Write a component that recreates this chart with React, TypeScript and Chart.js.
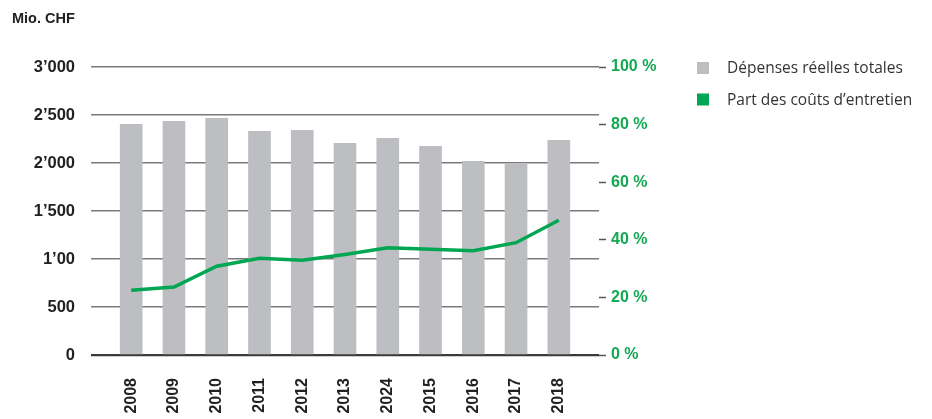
import React, { useEffect, useRef } from 'react';
import { Chart, registerables } from 'chart.js';

Chart.register(...registerables);

// ---- Data ----
const categories = ['2008', '2009', '2010', '2011', '2012', '2013', '2024', '2015', '2016', '2017', '2018'];
const depensesTotales = [2403, 2434, 2466, 2330, 2341, 2205, 2257, 2174, 2018, 1997, 2236];
const partEntretien = [22.5, 23.6, 30.8, 33.6, 32.9, 34.9, 37.2, 36.7, 36.2, 39.0, 46.8];

const leftTickValues = [0, 500, 1000, 1500, 2000, 2500, 3000];
const leftTickLabels = ['0', '500', '1’00', '1’500', '2’000', '2’500', '3’000'];
const rightTickValues = [0, 20, 40, 60, 80, 100];
const rightTickLabels = ['0 %', '20 %', '40 %', '60 %', '80 %', '100 %'];

const unitLabel = 'Mio. CHF';
const seriesLabels = ['Dépenses réelles totales', 'Part des coûts d’entretien'];

const GREY = '#bdbec2';
const GREEN = '#00a651';
const GREEN_TEXT = '#14a852';
const TICK_FONT = '"Liberation Sans", Arial, Helvetica, sans-serif';

const overlayPlugin = {
  id: 'overlayText',
  afterDraw(chart: any) {
    const ctx = chart.ctx;
    const area = chart.chartArea;
    ctx.save();
    ctx.textBaseline = 'middle';
    ctx.textAlign = 'left';
    ctx.fillStyle = '#222';
    ctx.font = `bold 14.5px ${TICK_FONT}`;
    ctx.fillText(unitLabel, 12, 19);

    ctx.font = '15.5px "Open Sans", "Noto Sans", sans-serif';
    chart.data.datasets.forEach((ds: any, i: number) => {
      const cy = area.top + 1 + i * 31.5;
      const x0 = area.right + 98;
      ctx.fillStyle = ds.legendColor;
      ctx.fillRect(x0, cy - 6, 12, 12);
      ctx.fillStyle = '#333';
      ctx.fillText(ds.label, x0 + 30, cy + 1);
    });
    ctx.restore();
  },
};

export default function App() {
  const canvasRef = useRef<HTMLCanvasElement | null>(null);

  useEffect(() => {
    if (!canvasRef.current) return;
    const chart = new Chart(canvasRef.current, {
      type: 'bar',
      data: {
        datasets: [
          {
            type: 'bar',
            label: seriesLabels[0],
            data: depensesTotales.map((v, i) => ({ x: i, y: v })),
            backgroundColor: GREY,
            borderWidth: 0,
            barThickness: 22,
            yAxisID: 'y',
            xAxisID: 'x',
            order: 2,
            legendColor: GREY,
          } as any,
          {
            type: 'line',
            label: seriesLabels[1],
            data: partEntretien.map((v, i) => ({ x: i, y: v })),
            borderColor: GREEN,
            backgroundColor: GREEN,
            borderWidth: 3.5,
            pointRadius: 0,
            tension: 0,
            fill: false,
            yAxisID: 'y1',
            xAxisID: 'x',
            order: 1,
            legendColor: GREEN,
          } as any,
        ],
      },
      options: {
        animation: false,
        responsive: false,
        maintainAspectRatio: false,
        layout: { padding: { top: 67, left: 0, right: 0, bottom: 0 } },
        plugins: {
          legend: { display: false },
          title: { display: false },
          tooltip: { enabled: false },
        },
        scales: {
          x: {
            type: 'linear',
            min: -0.94,
            max: 10.94,
            offset: false,
            grid: { display: false, drawTicks: false },
            border: { display: false },
            afterBuildTicks: (scale: any) => {
              scale.ticks = categories.map((_, i) => ({ value: i }));
            },
            afterFit: (scale: any) => {
              scale.height = 64;
            },
            ticks: {
              autoSkip: false,
              maxRotation: 90,
              minRotation: 90,
              padding: 23,
              color: '#222',
              font: { family: TICK_FONT, size: 16, weight: 'bold' },
              callback: (value: any) => categories[value as number] ?? '',
            },
          },
          y: {
            type: 'linear',
            position: 'left',
            min: 0,
            max: 3000,
            afterBuildTicks: (scale: any) => {
              scale.ticks = leftTickValues.map((v) => ({ value: v }));
            },
            afterFit: (scale: any) => {
              scale.width = 91;
            },
            grid: {
              drawTicks: false,
              color: (c: any) => (c.tick && c.tick.value === 0 ? '#3a3a3a' : '#7a7a7a'),
              lineWidth: (c: any) => (c.tick && c.tick.value === 0 ? 2.2 : 1.6),
            },
            border: { display: false },
            ticks: {
              padding: 16,
              color: '#222',
              font: { family: TICK_FONT, size: 16.5, weight: 'bold' },
              callback: (value: any) => leftTickLabels[leftTickValues.indexOf(value as number)] ?? '',
            },
          },
          y1: {
            type: 'linear',
            position: 'right',
            min: 0,
            max: 100,
            afterBuildTicks: (scale: any) => {
              scale.ticks = rightTickValues.map((v) => ({ value: v }));
            },
            afterFit: (scale: any) => {
              scale.width = 333;
            },
            grid: {
              drawOnChartArea: false,
              drawTicks: true,
              tickLength: 7,
              tickColor: '#555',
              tickWidth: 1.5,
            },
            border: { display: false },
            ticks: {
              padding: 5,
              color: GREEN_TEXT,
              font: { family: TICK_FONT, size: 16, weight: 'bold' },
              callback: (value: any) => rightTickLabels[rightTickValues.indexOf(value as number)] ?? '',
            },
          },
        },
      } as any,
      plugins: [overlayPlugin],
    });
    return () => chart.destroy();
  }, []);

  return (
    <div style={{ position: 'fixed', left: 0, top: 0, width: 932, height: 419, background: '#fff' }}>
      <canvas ref={canvasRef} width={932} height={419} style={{ display: 'block' }} />
    </div>
  );
}
